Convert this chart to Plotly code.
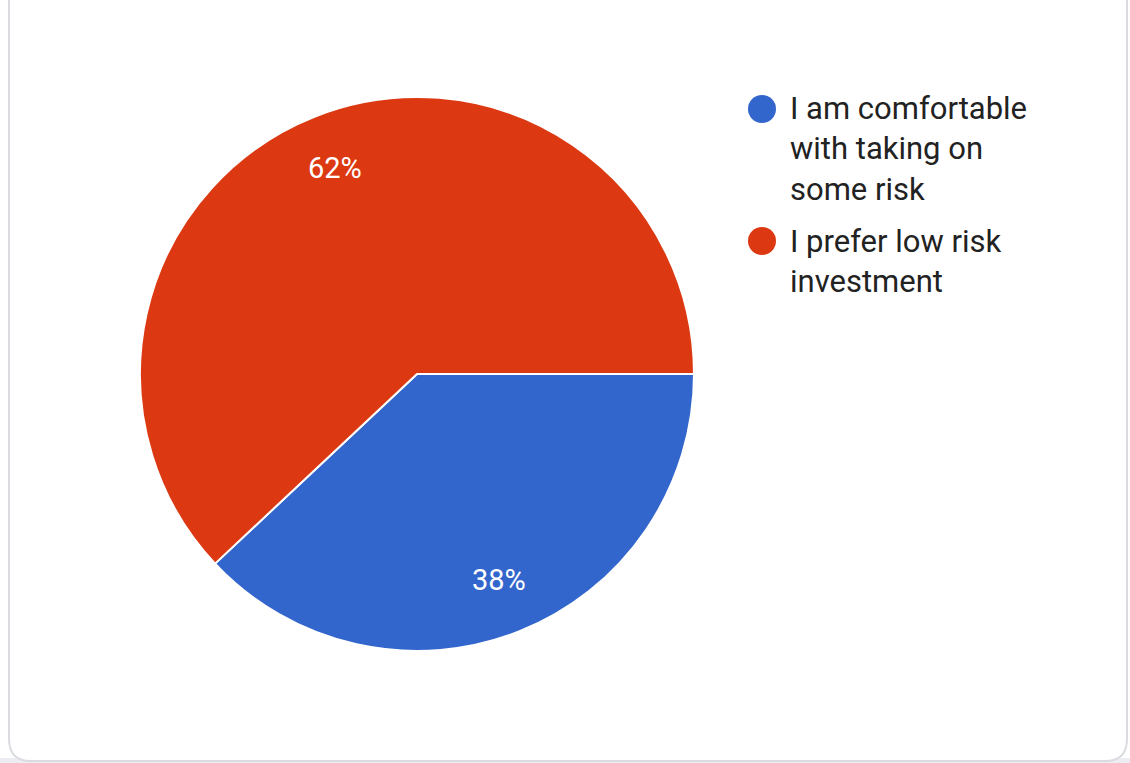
import math
import textwrap
import plotly.graph_objects as go

# Survey answers and their shares (percent)
labels = ["I am comfortable with taking on some risk", "I prefer low risk investment"]
values = [38, 62]
colors = ["#3366CC", "#DC3912"]

W, H = 1130, 763

# pie placement in pixels (center and radius)
cx, cy, R = 417, 374, 277


def px_x(x):
    return x / W


def px_y(y):
    return 1 - y / H


fig = go.Figure()

fig.add_trace(go.Pie(
    labels=labels,
    values=values,
    marker=dict(colors=colors, line=dict(color="white", width=2)),
    sort=False,
    direction="clockwise",
    rotation=90,
    textinfo="none",
    hoverinfo="label+percent",
    showlegend=False,
    domain=dict(x=[px_x(cx - R), px_x(cx + R)], y=[px_y(cy + R), px_y(cy - R)]),
))

annotations = []
shapes = []

# faint strip under the card
shapes.append(dict(type="rect", xref="paper", yref="paper",
                   x0=0, x1=1, y0=0, y1=px_y(758),
                   fillcolor="#ececf3", line=dict(width=0), layer="below"))

# card background with rounded bottom corners
left, right, top, bottom, rad = 9, 1127, -30, 761, 22
path = (
    f"M {px_x(left)},{px_y(top)} "
    f"L {px_x(left)},{px_y(bottom - rad)} "
    f"Q {px_x(left)},{px_y(bottom)} {px_x(left + rad)},{px_y(bottom)} "
    f"L {px_x(right - rad)},{px_y(bottom)} "
    f"Q {px_x(right)},{px_y(bottom)} {px_x(right)},{px_y(bottom - rad)} "
    f"L {px_x(right)},{px_y(top)} Z"
)
shapes.append(dict(type="path", xref="paper", yref="paper", path=path,
                   fillcolor="white", line=dict(color="#dadce0", width=2),
                   layer="below"))

# percentage labels placed at 80% of the radius along each slice's mid-angle
total = sum(values)
start = 0.0  # degrees clockwise from 3 o'clock
for v in values:
    span = 360.0 * v / total
    mid = math.radians(start + span / 2)
    lx = cx + 0.8 * R * math.cos(mid)
    ly = cy + 0.8 * R * math.sin(mid)
    annotations.append(dict(
        x=px_x(lx), y=px_y(ly), xref="paper", yref="paper",
        text=f"{round(100 * v / total)}%", showarrow=False,
        font=dict(family="Roboto", size=29, color="white"),
        xanchor="center", yanchor="middle",
    ))
    start += span

# legend: circle swatches with wrapped labels
line_gap = 40
y_row = 109
for lab, col in zip(labels, colors):
    lines = textwrap.wrap(lab, 17)
    shapes.append(dict(type="circle", xref="paper", yref="paper",
                       x0=px_x(748), x1=px_x(776),
                       y0=px_y(y_row + 14), y1=px_y(y_row - 14),
                       fillcolor=col, line=dict(width=0)))
    mid_y = y_row + (len(lines) - 1) * line_gap / 2
    annotations.append(dict(
        x=px_x(788), y=px_y(mid_y), xref="paper", yref="paper",
        text="<br>".join(lines), showarrow=False, align="left",
        font=dict(family="Roboto", size=31, color="#222222"),
        xanchor="left", yanchor="middle",
    ))
    y_row += len(lines) * line_gap + 12

fig.update_layout(
    width=W, height=H,
    margin=dict(l=0, r=0, t=0, b=0),
    paper_bgcolor="white",
    plot_bgcolor="white",
    shapes=shapes,
    annotations=annotations,
)

fig.write_html("out.html")
